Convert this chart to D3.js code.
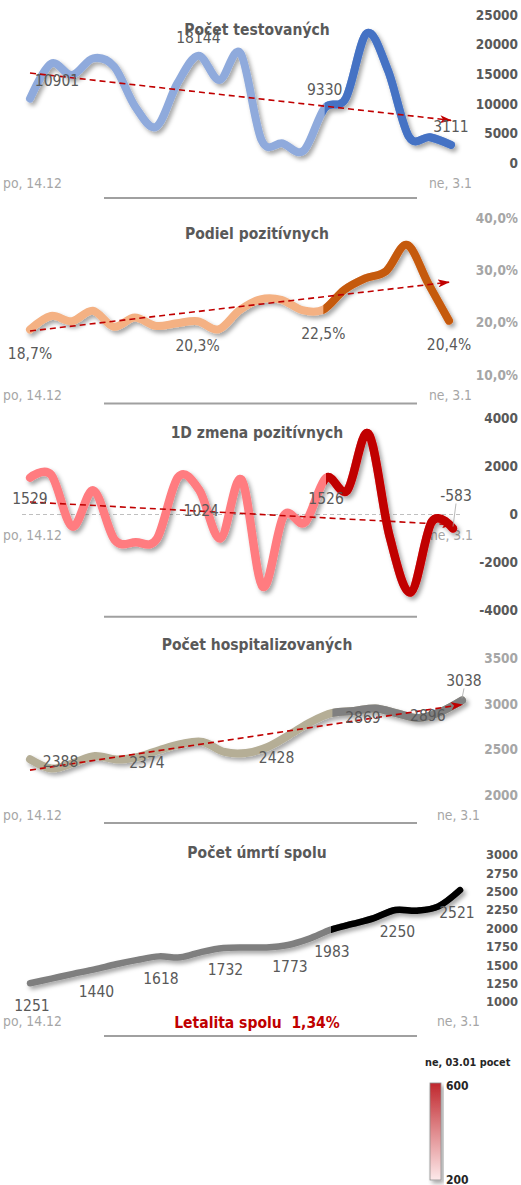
<!DOCTYPE html>
<html>
<head>
<meta charset="utf-8">
<script src="https://cdn.jsdelivr.net/npm/d3@7"></script>
<style>
  body { margin: 0; background: #fff; }
  svg { display: block; font-family: "DejaVu Sans Condensed", "DejaVu Sans", sans-serif; font-stretch: condensed; }
</style>
</head>
<body>
<svg id="chart" width="521" height="1185"></svg>
<script>
const dates = [
  "po, 14.12", "ut, 15.12", "st, 16.12", "št, 17.12", "pi, 18.12", "so, 19.12", "ne, 20.12",
  "po, 21.12", "ut, 22.12", "st, 23.12", "št, 24.12", "pi, 25.12", "so, 26.12", "ne, 27.12",
  "po, 28.12", "ut, 29.12", "st, 30.12", "št, 31.12", "pi, 1.1", "so, 2.1", "ne, 3.1"
];
const splitDay = 14;

const tested = [10901, 16800, 14880, 17700, 16300, 9540, 6170, 13480, 18144, 14040, 18540,
  3900, 3370, 2130, 9330, 10950, 21900, 15730, 4490, 4400, 3111];
const testedTicks = [0, 5000, 10000, 15000, 20000, 25000];
const testedLabelDays = [0, 8, 14, 20];

const positiveShare = [18.7, 21.3, 20.3, 22.3, 19.25, 21.0, 19.4, 19.9, 20.3, 18.75, 22.4,
  24.5, 24.4, 22.4, 22.5, 26.3, 28.5, 29.9, 34.9, 27.6, 20.4];
const shareTicks = [10, 20, 30, 40];
const shareLabelDays = [0, 8, 14, 20];

const positiveChange = [1529, 1650, -500, 1000, -1050, -1150, -1010, 1550, 1024, -1000, 1450,
  -3000, -50, -330, 1526, 1000, 3360, -900, -3240, -300, -583];
const changeTicks = [-4000, -2000, 0, 2000, 4000];
const changeLabelDays = [0, 8, 14, 20];

const hospitalized = [2392, 2291, 2351, 2428, 2390, 2417, 2494, 2560, 2582, 2472, 2461,
  2527, 2659, 2801, 2900, 2922, 2950, 2895, 2845, 2911, 3038];
const hospTicks = [2000, 2500, 3000, 3500];
const hospLabelDays = [1, 5, 11, 15, 18, 20];
const hospLabelValues = [2388, 2374, 2428, 2869, 2896, 3038];

const deaths = [1251, 1315, 1380, 1440, 1510, 1570, 1618, 1605, 1680, 1732, 1740,
  1740, 1773, 1860, 1983, 2060, 2140, 2250, 2240, 2300, 2521];
const deathTicks = [1000, 1250, 1500, 1750, 2000, 2250, 2500, 2750, 3000];
const deathLabelDays = [0, 3, 6, 9, 12, 14, 17, 20];

const lethality = 1.34;
const legendTitle = "ne, 03.01 pocet";
const legendRange = [200, 600];

const svg = d3.select("#chart");
const defs = svg.append("defs");

defs.append("filter")
  .attr("id", "shadow")
  .attr("x", "-10%").attr("y", "-30%")
  .attr("width", "130%").attr("height", "170%")
  .append("feDropShadow")
  .attr("dx", 2.5).attr("dy", 3)
  .attr("stdDeviation", 2)
  .attr("flood-color", "#000")
  .attr("flood-opacity", 0.35);

defs.append("marker")
  .attr("id", "arrow")
  .attr("viewBox", "0 0 12 8")
  .attr("refX", 11).attr("refY", 4)
  .attr("markerWidth", 12).attr("markerHeight", 8)
  .attr("markerUnits", "userSpaceOnUse")
  .attr("orient", "auto")
  .append("path")
  .attr("d", "M0,0L12,4L0,8L3,4Z")
  .attr("fill", "#c00000");

const comma = (f) => (v) => d3.format(f)(v).replace(".", ",");

const fit = (values) => {
  const n = values.length;
  const mx = (n - 1) / 2;
  const my = d3.mean(values);
  let sxy = 0, sxx = 0;
  values.forEach((v, i) => { sxy += (i - mx) * (v - my); sxx += (i - mx) * (i - mx); });
  const b = sxy / sxx;
  return [my - b * mx, my + b * (n - 1 - mx)];
};

const drawPanel = (p, k) => {
  const n = p.values.length;
  const x = d3.scaleLinear().domain([0, n - 1]).range(p.xRange);
  const y = d3.scaleLinear().domain(p.yDomain).range(p.yRange);
  const g = svg.append("g");

  // first / last date
  g.append("text")
    .attr("x", 3).attr("y", p.dateY).attr("dy", "0.35em")
    .attr("font-size", 13.8).attr("fill", "#a6a6a6")
    .text(dates[0]);
  g.append("text")
    .attr("x", p.dateEnd).attr("y", p.dateY).attr("dy", "0.35em")
    .attr("text-anchor", "end")
    .attr("font-size", 13.8).attr("fill", "#a6a6a6")
    .text(dates[n - 1]);

  g.append("line")
    .attr("x1", 104).attr("x2", 417)
    .attr("y1", p.ruleY).attr("y2", p.ruleY)
    .attr("stroke", "#a0a0a0").attr("stroke-width", 2);

  g.selectAll(".tick")
    .data(p.ticks)
    .join("text")
    .attr("x", 518).attr("y", (d) => y(d)).attr("dy", "0.35em")
    .attr("text-anchor", "end")
    .attr("font-weight", "bold")
    .attr("font-size", p.tickSize)
    .attr("fill", p.tickColor)
    .text(p.tickFmt);

  if (p.zero) {
    g.append("line")
      .attr("x1", 22).attr("x2", 463)
      .attr("y1", y(0)).attr("y2", y(0))
      .attr("stroke", "#bfbfbf").attr("stroke-width", 1)
      .attr("stroke-dasharray", "4,3");
  }

  const line = d3.line()
    .x((d, i) => x(i))
    .y((d) => y(d))
    .curve(d3.curveCardinal);

  defs.append("clipPath")
    .attr("id", "dark" + k)
    .append("rect")
    .attr("x", x(splitDay)).attr("y", 0)
    .attr("width", 521 - x(splitDay)).attr("height", 1185);

  const s = g.append("g").attr("filter", "url(#shadow)");
  s.append("path")
    .datum(p.values)
    .attr("d", line)
    .attr("fill", "none")
    .attr("stroke", p.light)
    .attr("stroke-width", p.width)
    .attr("stroke-linecap", "round")
    .attr("stroke-linejoin", "round");
  s.append("path")
    .datum(p.values)
    .attr("d", line)
    .attr("clip-path", `url(#dark${k})`)
    .attr("fill", "none")
    .attr("stroke", p.dark)
    .attr("stroke-width", p.width)
    .attr("stroke-linecap", "round")
    .attr("stroke-linejoin", "round");

  if (p.trend) {
    const [a, b] = fit(p.values);
    g.append("line")
      .attr("x1", x(0)).attr("y1", y(a))
      .attr("x2", x(n - 1)).attr("y2", y(b))
      .attr("stroke", "#c00000").attr("stroke-width", 1.6)
      .attr("stroke-dasharray", "6,4")
      .attr("marker-end", "url(#arrow)");
  }

  p.labels.forEach((l) => {
    const lx = x(l.i) + (l.dx || 0);
    const ly = y(l.v) + l.dy;
    if (l.leader) {
      g.append("line")
        .attr("x1", lx).attr("y1", ly + 8)
        .attr("x2", x(l.i)).attr("y2", y(p.values[l.i]) - 2)
        .attr("stroke", "#a6a6a6").attr("stroke-width", 0.8);
    }
    g.append("text")
      .attr("x", lx).attr("y", ly).attr("dy", "0.35em")
      .attr("text-anchor", "middle")
      .attr("font-size", 15.5)
      .attr("fill", "#595959")
      .text(p.labelFmt(l.v));
  });

  g.append("text")
    .attr("x", 257).attr("y", p.titleY).attr("dy", "0.35em")
    .attr("text-anchor", "middle")
    .attr("font-weight", "bold")
    .attr("font-size", 15.5)
    .attr("fill", "#595959")
    .text(p.title);

  return { x, y, g };
};

const labelsFrom = (values, days, dy, extra) =>
  days.map((i, j) => Object.assign({ i, v: values[i], dy }, (extra && extra[j]) || {}));

drawPanel({
  title: "Počet testovaných", titleY: 30,
  values: tested, yDomain: [0, 25000], yRange: [163.3, 15], xRange: [30, 451],
  ticks: testedTicks, tickFmt: (d) => d, tickColor: "#595959", tickSize: 13.5,
  light: "#8faadc", dark: "#4472c4", width: 8, trend: true,
  labels: labelsFrom(tested, testedLabelDays, -18, [{ dx: 27 }]),
  labelFmt: (v) => v,
  dateY: 183, dateEnd: 472, ruleY: 198
}, 1);

drawPanel({
  title: "Podiel pozitívnych", titleY: 234,
  values: positiveShare, yDomain: [10, 40], yRange: [375, 218.3], xRange: [30, 449],
  ticks: shareTicks, tickFmt: (d) => comma(".1f")(d) + "%", tickColor: "#a6a6a6", tickSize: 13.5,
  light: "#f4b183", dark: "#c55a11", width: 8, trend: true,
  labels: labelsFrom(positiveShare, shareLabelDays, 24),
  labelFmt: (v) => comma(".1f")(v) + "%",
  dateY: 395, dateEnd: 472, ruleY: 403.5
}, 2);

drawPanel({
  title: "1D zmena pozitívnych", titleY: 433,
  values: positiveChange, yDomain: [-4000, 4000], yRange: [610.7, 418.3], xRange: [30, 453],
  ticks: changeTicks, tickFmt: (d) => d, tickColor: "#595959", tickSize: 13.5,
  light: "#ff7c80", dark: "#c00000", width: 8.5, trend: true, zero: true,
  labels: labelsFrom(positiveChange, changeLabelDays, 21, [{}, { dx: 2 }, {}, { dy: -33, dx: 3, leader: true }]),
  labelFmt: (v) => v,
  dateY: 535, dateEnd: 473, ruleY: 616.7
}, 3);

drawPanel({
  title: "Počet hospitalizovaných", titleY: 645,
  values: hospitalized, yDomain: [2000, 3500], yRange: [795, 658.3], xRange: [30, 462],
  ticks: hospTicks, tickFmt: (d) => d, tickColor: "#a6a6a6", tickSize: 13.5,
  light: "#b5ae96", dark: "#808080", width: 8, trend: true,
  labels: hospLabelDays.map((i, j) => (j === hospLabelDays.length - 1
    ? { i, v: hospLabelValues[j], dx: 2, dy: -20, leader: true }
    : { i, v: hospLabelValues[j], dx: 9, dy: 2 })),
  labelFmt: (v) => v,
  dateY: 815, dateEnd: 480, ruleY: 823
}, 4);

const p5 = drawPanel({
  title: "Počet úmrtí spolu", titleY: 853,
  values: deaths, yDomain: [1000, 3000], yRange: [1001.7, 855], xRange: [30, 460],
  ticks: deathTicks, tickFmt: (d) => d, tickColor: "#595959", tickSize: 12.8,
  light: "#7f7f7f", dark: "#000000", width: 6.5, trend: false,
  labels: labelsFrom(deaths, deathLabelDays, 22, [{ dx: 2 }, { dx: 2 }, { dx: 2 }, { dx: 2 }, { dx: 2 }, { dx: 1 }, { dx: 2 }, { dx: -3 }]),
  labelFmt: (v) => v,
  dateY: 1021, dateEnd: 480, ruleY: 1036
}, 5);

p5.g.append("text")
  .attr("x", 257).attr("y", 1023).attr("dy", "0.35em")
  .attr("text-anchor", "middle")
  .attr("font-weight", "bold")
  .attr("font-size", 15.5)
  .attr("fill", "#c00000")
  .style("white-space", "pre")
  .text("Letalita spolu  " + comma(".2f")(lethality) + "%");

// colour legend
const ly = d3.scaleLinear().domain(legendRange).range([1180, 1086]);
const grad = defs.append("linearGradient")
  .attr("id", "legendGrad")
  .attr("x1", 0).attr("y1", 1).attr("x2", 0).attr("y2", 0);
grad.append("stop").attr("offset", "0%").attr("stop-color", "#fde9ea");
grad.append("stop").attr("offset", "50%").attr("stop-color", "#e08a8d");
grad.append("stop").attr("offset", "100%").attr("stop-color", "#c0272d");

const legend = svg.append("g");
legend.append("text")
  .attr("x", 425).attr("y", 1062).attr("dy", "0.35em")
  .attr("font-weight", "bold").attr("font-size", 10.8)
  .attr("fill", "#262626")
  .text(legendTitle);
legend.append("rect")
  .attr("x", 430).attr("y", ly(legendRange[1]) - 3)
  .attr("width", 11).attr("height", ly(legendRange[0]) - ly(legendRange[1]) + 3)
  .attr("fill", "url(#legendGrad)")
  .attr("stroke", "#8c8c8c").attr("stroke-width", 0.8)
  .attr("filter", "url(#shadow)");
legend.selectAll(".lt")
  .data(legendRange)
  .join("text")
  .attr("x", 446).attr("y", (d) => ly(d)).attr("dy", "0.35em")
  .attr("font-weight", "bold").attr("font-size", 12)
  .attr("fill", "#262626")
  .text((d) => d);
</script>
</body>
</html>
